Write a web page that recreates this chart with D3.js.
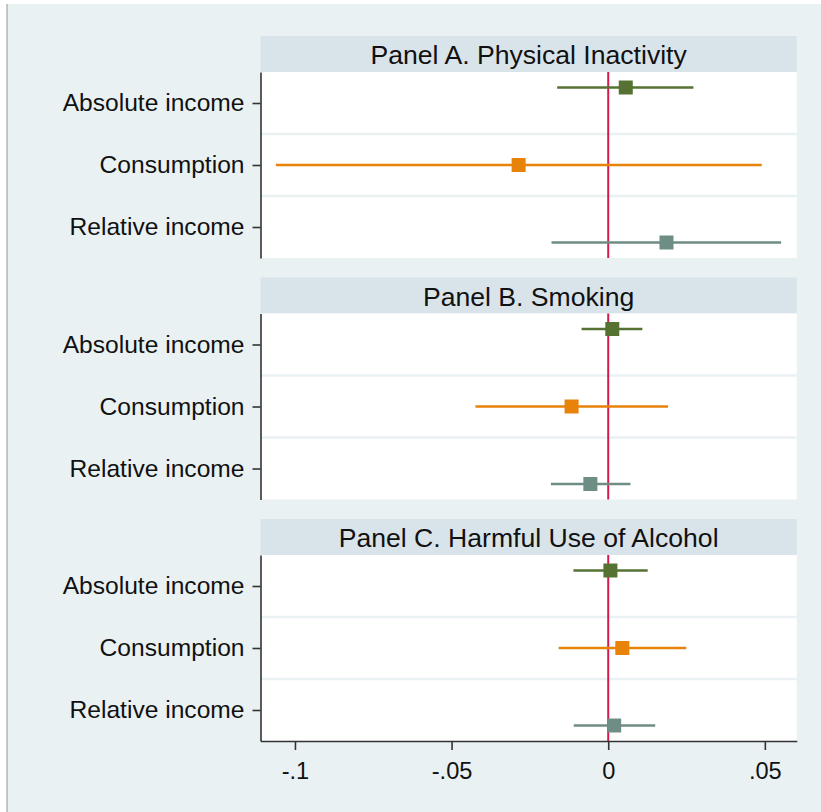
<!DOCTYPE html>
<html>
<head>
<meta charset="utf-8">
<script src="https://cdn.jsdelivr.net/npm/d3@7/dist/d3.min.js"></script>
<style>
  html, body { margin: 0; padding: 0; background: #ffffff; }
  svg { display: block; font-family: "Liberation Sans", Arial, Helvetica, sans-serif; }
</style>
</head>
<body>
<svg id="chart" width="821" height="812"></svg>
<script>
// Coefficient estimates with confidence intervals, one panel per outcome
const panelTitles = ["Panel A. Physical Inactivity", "Panel B. Smoking", "Panel C. Harmful Use of Alcohol"];
const rowLabels = ["Absolute income", "Consumption", "Relative income"];
const seriesColors = ["#567232", "#e8830a", "#6e8d84"];

// Point estimates (rows: absolute income, consumption, relative income)
const estA = [0.0056, -0.0286, 0.0186];
const lowA = [-0.0163, -0.1061, -0.0181];
const highA = [0.0272, 0.0490, 0.0552];

const estB = [0.0013, -0.0117, -0.0057];
const lowB = [-0.0085, -0.0424, -0.0183];
const highB = [0.0109, 0.0191, 0.0071];

const estC = [0.0007, 0.0045, 0.0019];
const lowC = [-0.0111, -0.0158, -0.0110];
const highC = [0.0126, 0.0249, 0.0150];

// Vertical offsets of each model within its row (category units)
const rowOffsets = [-0.25, 0, 0.25];

const xTicks = [-0.1, -0.05, 0, 0.05];
const xTickLabels = ["-.1", "-.05", "0", ".05"];

const panelEst = [estA, estB, estC];
const panelLow = [lowA, lowB, lowC];
const panelHigh = [highA, highB, highC];

// Layout
const W = 821, H = 812;
const plotLeft = 260.5, plotRight = 796.8;
const headerH = 36, plotH = 186, panelPitch = 241.5, firstTop = 36;

const svg = d3.select("#chart");

// Outer region
svg.append("rect").attr("x", 7).attr("y", 4).attr("width", W - 7).attr("height", H - 4)
  .attr("fill", "#eaf1f3");
svg.append("line").attr("x1", 7).attr("x2", 7).attr("y1", 4).attr("y2", H)
  .attr("stroke", "#a3a3a3").attr("stroke-width", 1.2);

const x = d3.scaleLinear().domain([-0.111, 0.0602]).range([plotLeft, plotRight]);

panelTitles.forEach((title, p) => {
  const top = firstTop + p * panelPitch;
  const plotTop = top + headerH;
  const g = svg.append("g");

  // Title strip
  g.append("rect").attr("x", plotLeft).attr("y", top)
    .attr("width", plotRight - plotLeft).attr("height", headerH)
    .attr("fill", "#d9e4ea");
  g.append("text").attr("x", (plotLeft + plotRight) / 2).attr("y", top + 28)
    .attr("text-anchor", "middle").attr("font-size", 26.6).attr("fill", "#111")
    .text(title);

  // Plot area
  g.append("rect").attr("x", plotLeft).attr("y", plotTop)
    .attr("width", plotRight - plotLeft).attr("height", plotH)
    .attr("fill", "#ffffff");

  const y = d3.scaleLinear().domain([0.5, 3.5]).range([plotTop, plotTop + plotH]);

  // Row separators
  g.selectAll("line.sep").data([1.5, 2.5]).enter().append("line")
    .attr("class", "sep")
    .attr("x1", plotLeft).attr("x2", plotRight)
    .attr("y1", d => y(d)).attr("y2", d => y(d))
    .attr("stroke", "#eaf1f3").attr("stroke-width", 2.5);

  // Reference line at zero
  g.append("line").attr("x1", x(0)).attr("x2", x(0))
    .attr("y1", plotTop).attr("y2", plotTop + plotH)
    .attr("stroke", "#d8194f").attr("stroke-width", 2);

  const rows = rowLabels.map((lab, i) => ({
    i, est: panelEst[p][i], lo: panelLow[p][i], hi: panelHigh[p][i],
    pos: i + 1 + rowOffsets[i]
  }));

  // Confidence intervals
  g.selectAll("line.ci").data(rows).enter().append("line")
    .attr("class", "ci")
    .attr("x1", d => x(d.lo)).attr("x2", d => x(d.hi))
    .attr("y1", d => y(d.pos)).attr("y2", d => y(d.pos))
    .attr("stroke", d => seriesColors[d.i]).attr("stroke-width", 2.6);

  // Point estimates
  const ms = 14;
  g.selectAll("rect.pt").data(rows).enter().append("rect")
    .attr("class", "pt")
    .attr("x", d => x(d.est) - ms / 2).attr("y", d => y(d.pos) - ms / 2)
    .attr("width", ms).attr("height", ms)
    .attr("fill", d => seriesColors[d.i]);

  // Left axis with row labels
  const yAxis = d3.axisLeft(y).tickValues([1, 2, 3])
    .tickFormat((d, i) => rowLabels[i]).tickSize(8).tickSizeOuter(0).tickPadding(8);
  const ya = g.append("g").attr("transform", `translate(${plotLeft},0)`).call(yAxis);
  ya.select(".domain").attr("stroke", "#333").attr("stroke-width", 1.6);
  ya.selectAll(".tick line").attr("stroke", "#333").attr("stroke-width", 1.6);
  ya.selectAll(".tick text").attr("font-size", 24.6).attr("fill", "#111")
    .attr("font-family", "Liberation Sans, Arial, sans-serif");

  // Bottom axis on the last panel
  if (p === panelTitles.length - 1) {
    const xAxis = d3.axisBottom(x).tickValues(xTicks)
      .tickFormat((d, i) => xTickLabels[i]).tickSize(9).tickSizeOuter(0).tickPadding(12);
    const xa = g.append("g").attr("transform", `translate(0,${plotTop + plotH})`).call(xAxis);
    xa.select(".domain").attr("stroke", "#333").attr("stroke-width", 1.6);
    xa.selectAll(".tick line").attr("stroke", "#333").attr("stroke-width", 1.6);
    xa.selectAll(".tick text").attr("font-size", 23.6).attr("fill", "#111")
      .attr("font-family", "Liberation Sans, Arial, sans-serif");
  }
});
</script>
</body>
</html>
